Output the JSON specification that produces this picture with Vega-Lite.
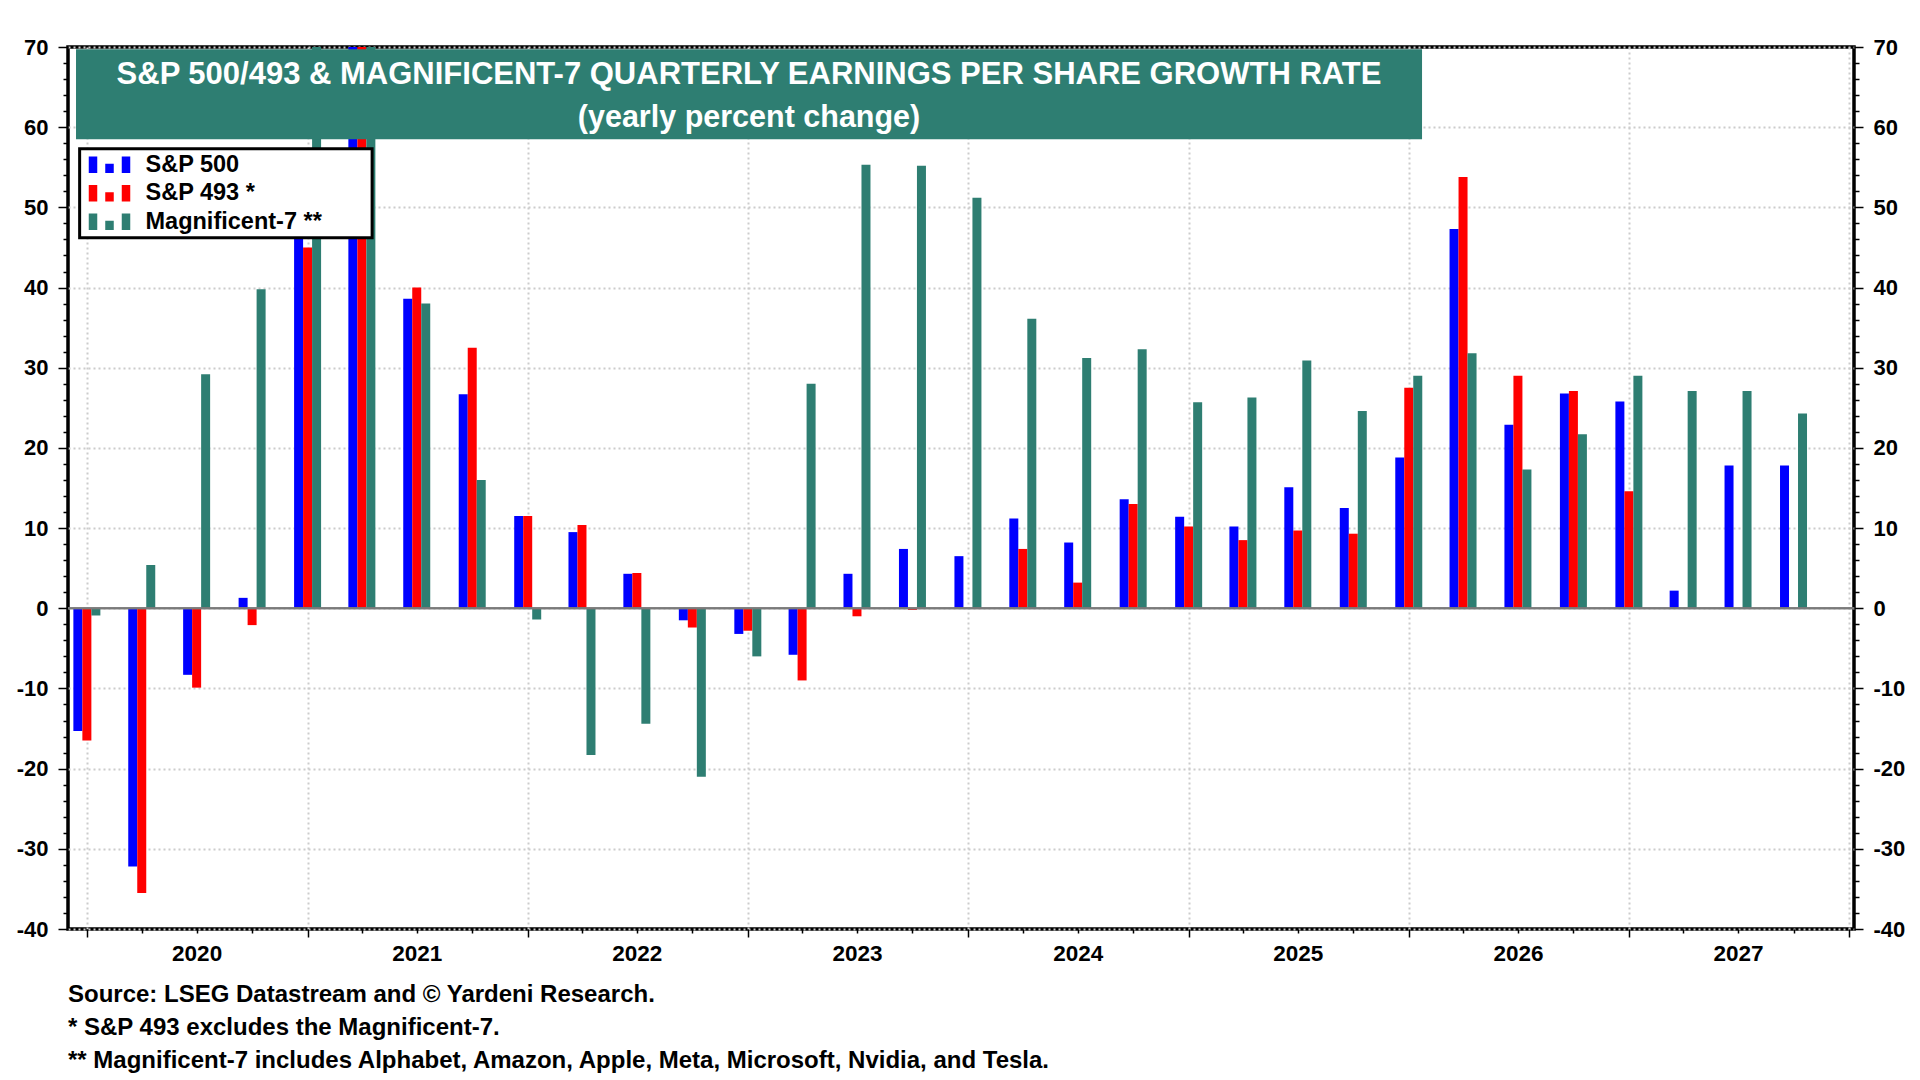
{
  "$schema": "https://vega.github.io/schema/vega-lite/v6.json",
  "width": 1786,
  "height": 882,
  "autosize": "none",
  "padding": {"left": 68, "top": 47, "right": 66, "bottom": 151},
  "background": "white",
  "title": {
    "text": [
      "Source: LSEG Datastream and © Yardeni Research.",
      "* S&P 493 excludes the Magnificent-7.",
      "** Magnificent-7 includes Alphabet, Amazon, Apple, Meta, Microsoft, Nvidia, and Tesla."
    ],
    "orient": "bottom",
    "anchor": "start",
    "frame": "group",
    "font": "Liberation Sans",
    "fontSize": 24,
    "fontWeight": "bold",
    "color": "black",
    "lineHeight": 33,
    "offset": 14
  },
  "datasets": {
    "eps": [
      {"q": "2020-01-01", "s": "S&P 500", "v": -15.3}, {"q": "2020-01-01", "s": "S&P 493 *", "v": -16.5}, {"q": "2020-01-01", "s": "Magnificent-7 **", "v": -0.9},
      {"q": "2020-04-01", "s": "S&P 500", "v": -32.2}, {"q": "2020-04-01", "s": "S&P 493 *", "v": -35.5}, {"q": "2020-04-01", "s": "Magnificent-7 **", "v": 5.4},
      {"q": "2020-07-01", "s": "S&P 500", "v": -8.3}, {"q": "2020-07-01", "s": "S&P 493 *", "v": -9.9}, {"q": "2020-07-01", "s": "Magnificent-7 **", "v": 29.2},
      {"q": "2020-10-01", "s": "S&P 500", "v": 1.3}, {"q": "2020-10-01", "s": "S&P 493 *", "v": -2.1}, {"q": "2020-10-01", "s": "Magnificent-7 **", "v": 39.8},
      {"q": "2021-01-01", "s": "S&P 500", "v": 52.0}, {"q": "2021-01-01", "s": "S&P 493 *", "v": 45.0}, {"q": "2021-01-01", "s": "Magnificent-7 **", "v": 78.0},
      {"q": "2021-04-01", "s": "S&P 500", "v": 92.0}, {"q": "2021-04-01", "s": "S&P 493 *", "v": 88.0}, {"q": "2021-04-01", "s": "Magnificent-7 **", "v": 98.0},
      {"q": "2021-07-01", "s": "S&P 500", "v": 38.6}, {"q": "2021-07-01", "s": "S&P 493 *", "v": 40.0}, {"q": "2021-07-01", "s": "Magnificent-7 **", "v": 38.0},
      {"q": "2021-10-01", "s": "S&P 500", "v": 26.7}, {"q": "2021-10-01", "s": "S&P 493 *", "v": 32.5}, {"q": "2021-10-01", "s": "Magnificent-7 **", "v": 16.0},
      {"q": "2022-01-01", "s": "S&P 500", "v": 11.5}, {"q": "2022-01-01", "s": "S&P 493 *", "v": 11.5}, {"q": "2022-01-01", "s": "Magnificent-7 **", "v": -1.4},
      {"q": "2022-04-01", "s": "S&P 500", "v": 9.5}, {"q": "2022-04-01", "s": "S&P 493 *", "v": 10.4}, {"q": "2022-04-01", "s": "Magnificent-7 **", "v": -18.3},
      {"q": "2022-07-01", "s": "S&P 500", "v": 4.3}, {"q": "2022-07-01", "s": "S&P 493 *", "v": 4.4}, {"q": "2022-07-01", "s": "Magnificent-7 **", "v": -14.4},
      {"q": "2022-10-01", "s": "S&P 500", "v": -1.5}, {"q": "2022-10-01", "s": "S&P 493 *", "v": -2.4}, {"q": "2022-10-01", "s": "Magnificent-7 **", "v": -21.0},
      {"q": "2023-01-01", "s": "S&P 500", "v": -3.2}, {"q": "2023-01-01", "s": "S&P 493 *", "v": -2.8}, {"q": "2023-01-01", "s": "Magnificent-7 **", "v": -6.0},
      {"q": "2023-04-01", "s": "S&P 500", "v": -5.8}, {"q": "2023-04-01", "s": "S&P 493 *", "v": -9.0}, {"q": "2023-04-01", "s": "Magnificent-7 **", "v": 28.0},
      {"q": "2023-07-01", "s": "S&P 500", "v": 4.3}, {"q": "2023-07-01", "s": "S&P 493 *", "v": -1.0}, {"q": "2023-07-01", "s": "Magnificent-7 **", "v": 55.3},
      {"q": "2023-10-01", "s": "S&P 500", "v": 7.4}, {"q": "2023-10-01", "s": "S&P 493 *", "v": -0.2}, {"q": "2023-10-01", "s": "Magnificent-7 **", "v": 55.2},
      {"q": "2024-01-01", "s": "S&P 500", "v": 6.5}, {"q": "2024-01-01", "s": "S&P 493 *", "v": 0.0}, {"q": "2024-01-01", "s": "Magnificent-7 **", "v": 51.2},
      {"q": "2024-04-01", "s": "S&P 500", "v": 11.2}, {"q": "2024-04-01", "s": "S&P 493 *", "v": 7.4}, {"q": "2024-04-01", "s": "Magnificent-7 **", "v": 36.1},
      {"q": "2024-07-01", "s": "S&P 500", "v": 8.2}, {"q": "2024-07-01", "s": "S&P 493 *", "v": 3.2}, {"q": "2024-07-01", "s": "Magnificent-7 **", "v": 31.2},
      {"q": "2024-10-01", "s": "S&P 500", "v": 13.6}, {"q": "2024-10-01", "s": "S&P 493 *", "v": 13.0}, {"q": "2024-10-01", "s": "Magnificent-7 **", "v": 32.3},
      {"q": "2025-01-01", "s": "S&P 500", "v": 11.4}, {"q": "2025-01-01", "s": "S&P 493 *", "v": 10.2}, {"q": "2025-01-01", "s": "Magnificent-7 **", "v": 25.7},
      {"q": "2025-04-01", "s": "S&P 500", "v": 10.2}, {"q": "2025-04-01", "s": "S&P 493 *", "v": 8.5}, {"q": "2025-04-01", "s": "Magnificent-7 **", "v": 26.3},
      {"q": "2025-07-01", "s": "S&P 500", "v": 15.1}, {"q": "2025-07-01", "s": "S&P 493 *", "v": 9.7}, {"q": "2025-07-01", "s": "Magnificent-7 **", "v": 30.9},
      {"q": "2025-10-01", "s": "S&P 500", "v": 12.5}, {"q": "2025-10-01", "s": "S&P 493 *", "v": 9.3}, {"q": "2025-10-01", "s": "Magnificent-7 **", "v": 24.6},
      {"q": "2026-01-01", "s": "S&P 500", "v": 18.8}, {"q": "2026-01-01", "s": "S&P 493 *", "v": 27.5}, {"q": "2026-01-01", "s": "Magnificent-7 **", "v": 29.0},
      {"q": "2026-04-01", "s": "S&P 500", "v": 47.3}, {"q": "2026-04-01", "s": "S&P 493 *", "v": 53.8}, {"q": "2026-04-01", "s": "Magnificent-7 **", "v": 31.8},
      {"q": "2026-07-01", "s": "S&P 500", "v": 22.9}, {"q": "2026-07-01", "s": "S&P 493 *", "v": 29.0}, {"q": "2026-07-01", "s": "Magnificent-7 **", "v": 17.3},
      {"q": "2026-10-01", "s": "S&P 500", "v": 26.8}, {"q": "2026-10-01", "s": "S&P 493 *", "v": 27.1}, {"q": "2026-10-01", "s": "Magnificent-7 **", "v": 21.7},
      {"q": "2027-01-01", "s": "S&P 500", "v": 25.8}, {"q": "2027-01-01", "s": "S&P 493 *", "v": 14.6}, {"q": "2027-01-01", "s": "Magnificent-7 **", "v": 29.0},
      {"q": "2027-04-01", "s": "S&P 500", "v": 2.2}, {"q": "2027-04-01", "s": "Magnificent-7 **", "v": 27.1},
      {"q": "2027-07-01", "s": "S&P 500", "v": 17.8}, {"q": "2027-07-01", "s": "Magnificent-7 **", "v": 27.1},
      {"q": "2027-10-01", "s": "S&P 500", "v": 17.8}, {"q": "2027-10-01", "s": "Magnificent-7 **", "v": 24.3}
    ]
  },
  "layer": [
    {
      "layer": [
        {
          "data": {"name": "eps"},
          "transform": [{"filter": "datum.s === 'S&P 500'"}],
          "mark": {"type": "bar", "width": 9, "xOffset": -9, "clip": true},
          "encoding": {
            "x": {
              "field": "q", "type": "temporal",
              "scale": {"type": "utc", "domain": [{"year": 2019, "month": 12, "date": 9, "utc": true}, {"year": 2028, "month": 1, "date": 1, "utc": true}]},
              "axis": {
                "title": null,
                "tickCount": {"interval": "month", "step": 3},
                "labelExpr": "utcmonth(datum.value) == 6 ? '' + utcyear(datum.value) : ''",
                "labelFontSize": 22.5,
                "tickSize": {"condition": {"test": "utcmonth(datum.value) == 0", "value": 8}, "value": 4},
                "grid": true,
                "gridOpacity": {"condition": {"test": "utcmonth(datum.value) == 0", "value": 1}, "value": 0},
                "labelPadding": 9
              }
            },
            "y": {
              "field": "v", "type": "quantitative",
              "scale": {"domain": [-40, 70], "nice": false, "zero": false},
              "axis": null
            },
            "color": {
              "field": "s", "type": "nominal",
              "scale": {"domain": ["S&P 500", "S&P 493 *", "Magnificent-7 **"], "range": ["#0000ff", "#ff0000", "#2e7e72"]},
              "legend": {
                "title": null,
                "orient": "none",
                "legendX": 19,
                "legendY": 106,
                "padding": 0,
                "symbolType": "M-1,-0.83H-0.15V0.83H-1Z M0.65,-0.1H1.5V0.83H0.65Z M2.3,-0.83H3.15V0.83H2.3Z",
                "symbolSize": 400,
                "symbolStrokeWidth": 0,
                "symbolOpacity": 1,
                "labelFont": "Liberation Sans",
                "labelFontSize": 23.5,
                "labelFontWeight": "bold",
                "labelColor": "black",
                "labelOffset": 35,
                "labelLimit": 400,
                "rowPadding": 3.5
              }
            }
          }
        },
        {
          "data": {"name": "eps"},
          "transform": [{"filter": "datum.s === 'S&P 493 *'"}],
          "mark": {"type": "bar", "width": 9, "xOffset": 0, "clip": true},
          "encoding": {
            "x": {"field": "q", "type": "temporal"},
            "y": {"field": "v", "type": "quantitative", "axis": null},
            "color": {"field": "s", "type": "nominal"}
          }
        },
        {
          "data": {"name": "eps"},
          "transform": [{"filter": "datum.s === 'Magnificent-7 **'"}],
          "mark": {"type": "bar", "width": 9, "xOffset": 9, "clip": true},
          "encoding": {
            "x": {"field": "q", "type": "temporal"},
            "y": {"field": "v", "type": "quantitative", "axis": null},
            "color": {"field": "s", "type": "nominal"}
          }
        },
        {
          "data": {"values": [{}]},
          "mark": {"type": "rect", "color": "#2e7e72"},
          "encoding": {
            "x": {"datum": {"year": 2019, "month": 12, "date": 14, "utc": true}, "type": "temporal"},
            "x2": {"datum": {"year": 2026, "month": 1, "date": 23, "utc": true}},
            "y": {"datum": 69.72, "type": "quantitative", "axis": null},
            "y2": {"datum": 58.49}
          }
        },
        {
          "data": {"values": [{}]},
          "mark": {"type": "text", "color": "white", "font": "Liberation Sans", "fontSize": 31, "fontWeight": "bold", "align": "center", "baseline": "alphabetic"},
          "encoding": {
            "x": {"datum": {"year": 2023, "month": 1, "date": 3, "utc": true}, "type": "temporal"},
            "y": {"datum": 65.4, "type": "quantitative", "axis": null},
            "text": {"value": "S&P 500/493 & MAGNIFICENT-7 QUARTERLY EARNINGS PER SHARE GROWTH RATE"}
          }
        },
        {
          "data": {"values": [{}]},
          "mark": {"type": "text", "color": "white", "font": "Liberation Sans", "fontSize": 30.5, "fontWeight": "bold", "align": "center", "baseline": "alphabetic"},
          "encoding": {
            "x": {"datum": {"year": 2023, "month": 1, "date": 3, "utc": true}, "type": "temporal"},
            "y": {"datum": 60.0, "type": "quantitative", "axis": null},
            "text": {"value": "(yearly percent change)"}
          }
        },
        {
          "data": {"values": [{}]},
          "mark": {"type": "rect", "fill": "white", "stroke": "black", "strokeWidth": 3},
          "encoding": {
            "x": {"datum": {"year": 2019, "month": 12, "date": 20, "utc": true}, "type": "temporal"},
            "x2": {"datum": {"year": 2021, "month": 4, "date": 18, "utc": true}},
            "y": {"datum": 57.3, "type": "quantitative", "axis": null},
            "y2": {"datum": 46.2}
          }
        }
      ]
    },
    {
      "data": {"values": [{}]},
      "mark": {"type": "rule", "color": "#7a7a7a", "strokeWidth": 2},
      "encoding": {
        "y": {
          "datum": 0, "type": "quantitative",
          "scale": {"domain": [-40, 70], "nice": false, "zero": false},
          "axis": {
            "title": null,
            "orient": "left",
            "values": [-40, -38, -36, -34, -32, -30, -28, -26, -24, -22, -20, -18, -16, -14, -12, -10, -8, -6, -4, -2, 0, 2, 4, 6, 8, 10, 12, 14, 16, 18, 20, 22, 24, 26, 28, 30, 32, 34, 36, 38, 40, 42, 44, 46, 48, 50, 52, 54, 56, 58, 60, 62, 64, 66, 68, 70],
            "labelExpr": "datum.value % 10 == 0 ? '' + datum.value : ''",
            "labelFontSize": 22,
            "tickSize": {"condition": {"test": "datum.value % 10 == 0", "value": 10}, "value": 5},
            "grid": true,
            "gridOpacity": {"condition": {"test": "datum.value % 10 == 0", "value": 1}, "value": 0},
            "labelPadding": 10
          }
        }
      }
    },
    {
      "data": {"values": [{}]},
      "mark": {"type": "rule", "color": "#7a7a7a", "strokeWidth": 2},
      "encoding": {
        "y": {
          "datum": 0, "type": "quantitative",
          "scale": {"domain": [-40, 70], "nice": false, "zero": false},
          "axis": {
            "title": null,
            "orient": "right",
            "values": [-40, -38, -36, -34, -32, -30, -28, -26, -24, -22, -20, -18, -16, -14, -12, -10, -8, -6, -4, -2, 0, 2, 4, 6, 8, 10, 12, 14, 16, 18, 20, 22, 24, 26, 28, 30, 32, 34, 36, 38, 40, 42, 44, 46, 48, 50, 52, 54, 56, 58, 60, 62, 64, 66, 68, 70],
            "labelExpr": "datum.value % 10 == 0 ? '' + datum.value : ''",
            "labelFontSize": 22,
            "tickSize": {"condition": {"test": "datum.value % 10 == 0", "value": 9}, "value": 5},
            "grid": false,
            "labelPadding": 10
          }
        }
      }
    }
  ],
  "resolve": {"scale": {"y": "independent"}, "axis": {"y": "independent"}},
  "config": {
    "font": "Liberation Sans",
    "view": {"stroke": "black", "strokeWidth": 3.5},
    "axis": {
      "domain": false,
      "labelFont": "Liberation Sans",
      "labelFontSize": 21,
      "labelFontWeight": "bold",
      "labelColor": "black",
      "labelFlush": false,
      "labelOverlap": false,
      "labelBound": false,
      "tickColor": "black",
      "tickWidth": 1.5,
      "gridColor": "#cccccc",
      "gridDash": [2, 3],
      "gridWidth": 2
    }
  }
}
